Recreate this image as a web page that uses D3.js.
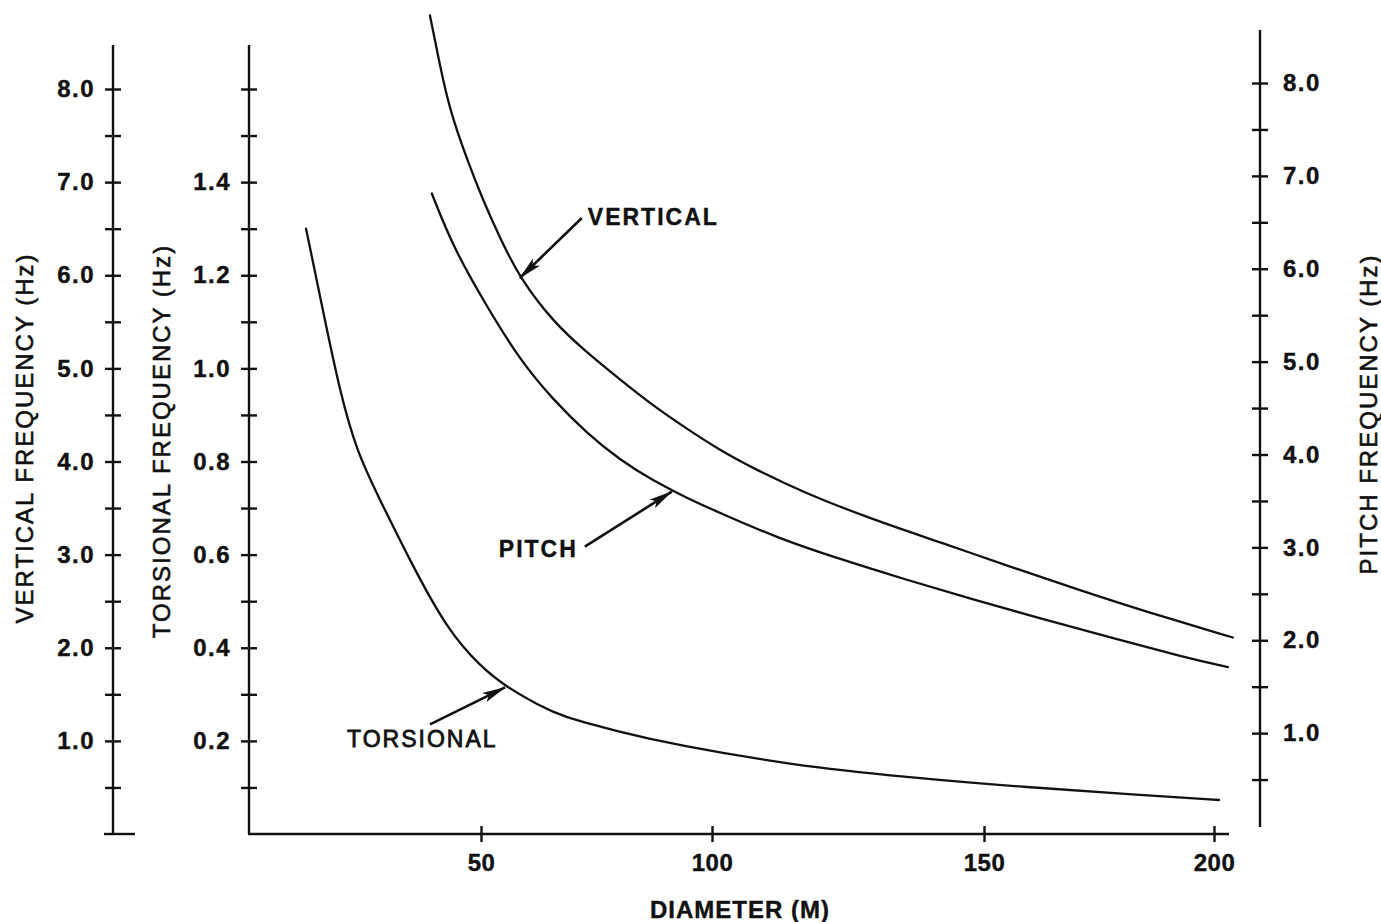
<!DOCTYPE html>
<html>
<head>
<meta charset="utf-8">
<script src="https://cdn.jsdelivr.net/npm/d3@7"></script>
<style>
  html, body { margin: 0; padding: 0; background: #fff; }
  svg { display: block; font-family: "Liberation Sans", Arial, Helvetica, sans-serif; }
</style>
</head>
<body>
<svg id="chart" width="1381" height="922"></svg>
<script>
// --- data: [diameter (m), frequency (Hz)] ---
const verticalCurve = [
  [39.0, 8.79], [41.2, 8.24], [43.3, 7.77], [47.0, 7.24], [50.4, 6.81], [54.1, 6.40],
  [58.4, 5.97], [65.6, 5.50], [72.9, 5.17], [80.1, 4.88], [87.2, 4.60], [94.6, 4.35],
  [101.5, 4.12], [107.5, 3.93], [116.7, 3.67], [129.4, 3.38], [142.1, 3.13],
  [155.7, 2.87], [170.7, 2.62], [185.7, 2.38], [204.1, 2.11]
];
const pitchCurve = [
  [39.4, 6.81], [44.0, 6.23], [51.3, 5.59], [58.4, 5.02], [65.6, 4.59], [72.9, 4.23],
  [80.1, 3.94], [87.2, 3.72], [94.6, 3.53], [101.5, 3.37], [112.1, 3.10], [123.2, 2.88],
  [135.8, 2.65], [148.5, 2.43], [163.3, 2.22], [178.3, 2.02], [193.3, 1.82], [203.0, 1.71]
];
const torsionalCurve = [
  [12.3, 1.30], [15.9, 1.126], [19.6, 0.949], [23.3, 0.819], [28.2, 0.718], [35.3, 0.575],
  [42.7, 0.440], [49.8, 0.360], [55.6, 0.315], [62.8, 0.275], [67.3, 0.253], [80.1, 0.219],
  [92.2, 0.191], [114.7, 0.148], [135.8, 0.122], [158.3, 0.101], [183.5, 0.084], [201.1, 0.073]
];

const diameterTicks = [50, 100, 150, 200];
const hzTicks = d3.range(1, 17).map(i => i * 0.5);        // 0.5 .. 8.0
const torsionTicks = d3.range(1, 17).map(i => i / 10);    // 0.1 .. 1.6

const svg = d3.select("#chart");

// the drawing is hand-made, tick spacing on the diameter axis is uneven
const x = d3.scaleLinear().domain([0, 50, 100, 150, 200]).range([249, 481, 712, 984, 1214]);
const yVert = d3.scaleLinear().domain([0, 8]).range([834, 89]);
const yTors = d3.scaleLinear().domain([0, 1.6]).range([834, 89]);
const yPitch = d3.scaleLinear().domain([0, 8]).range([826, 83]);

const AXIS_W = 2.4;

// arrow marker
svg.append("defs").append("marker")
  .attr("id", "arrow")
  .attr("viewBox", "0 -5 24 10")
  .attr("refX", 23)
  .attr("refY", 0)
  .attr("markerWidth", 24)
  .attr("markerHeight", 10)
  .attr("markerUnits", "userSpaceOnUse")
  .attr("orient", "auto")
  .append("path")
  .attr("d", "M0,-5L24,0L0,5L5,0Z")
  .attr("fill", "#111");

function tidy(g, crossAttr, crossVal) {
  g.select(".domain").remove();
  g.selectAll(".tick line")
    .attr("stroke", "#111")
    .attr("stroke-width", AXIS_W)
    .attr(crossAttr, crossVal);
  g.selectAll(".tick text")
    .attr("fill", "#111")
    .attr("stroke", "#111")
    .attr("stroke-width", 0.4)
    .style("font-size", "24px")
    .style("font-weight", "bold")
    .style("letter-spacing", "1.5px");
}

const fmt = d3.format(".1f");

// --- vertical frequency axis (outer left) ---
const gVert = svg.append("g").attr("transform", "translate(113,0)")
  .call(d3.axisLeft(yVert).tickValues(hzTicks).tickSize(8).tickPadding(10)
    .tickFormat(d => Number.isInteger(d) ? fmt(d) : ""));
tidy(gVert, "x1", 8);
svg.append("line").attr("x1", 113).attr("x2", 113).attr("y1", 45).attr("y2", 834)
  .attr("stroke", "#111").attr("stroke-width", AXIS_W);
svg.append("line").attr("x1", 104).attr("x2", 135).attr("y1", 834).attr("y2", 834)
  .attr("stroke", "#111").attr("stroke-width", AXIS_W);

// --- torsional frequency axis ---
const gTors = svg.append("g").attr("transform", "translate(249,0)")
  .call(d3.axisLeft(yTors).tickValues(torsionTicks).tickSize(8).tickPadding(10)
    .tickFormat(d => {
      const k = Math.round(d * 10);
      return (k % 2 === 0 && k < 16) ? fmt(d) : "";
    }));
tidy(gTors, "x1", 8);
svg.append("line").attr("x1", 249).attr("x2", 249).attr("y1", 45).attr("y2", 834)
  .attr("stroke", "#111").attr("stroke-width", AXIS_W);

// --- pitch frequency axis (right) ---
const gPitch = svg.append("g").attr("transform", "translate(1260,0)")
  .call(d3.axisRight(yPitch).tickValues(hzTicks).tickSize(8).tickPadding(15)
    .tickFormat(d => Number.isInteger(d) ? fmt(d) : ""));
tidy(gPitch, "x1", -8);
svg.append("line").attr("x1", 1260).attr("x2", 1260).attr("y1", 30).attr("y2", 827)
  .attr("stroke", "#111").attr("stroke-width", AXIS_W);

// --- diameter axis ---
const gX = svg.append("g").attr("transform", "translate(0,834)")
  .call(d3.axisBottom(x).tickValues(diameterTicks).tickSize(8).tickPadding(12));
tidy(gX, "y1", -8);
gX.selectAll(".tick text").style("letter-spacing", "0.5px");
svg.append("line").attr("x1", 248).attr("x2", 1229).attr("y1", 834).attr("y2", 834)
  .attr("stroke", "#111").attr("stroke-width", AXIS_W);

// --- axis titles ---
const titles = [
  { text: "VERTICAL FREQUENCY (Hz)", x: 24, y: 438 },
  { text: "TORSIONAL FREQUENCY (Hz)", x: 161, y: 441 },
  { text: "PITCH FREQUENCY (Hz)", x: 1368, y: 414 }
];
svg.selectAll(".ytitle").data(titles).enter().append("text")
  .attr("class", "ytitle")
  .attr("transform", d => `translate(${d.x},${d.y}) rotate(-90)`)
  .attr("text-anchor", "middle")
  .attr("dominant-baseline", "central")
  .attr("fill", "#111")
  .attr("stroke", "#111")
  .attr("stroke-width", 0.6)
  .style("font-size", "24px")
  .style("letter-spacing", "2px")
  .text(d => d.text);

svg.append("text")
  .attr("x", 740).attr("y", 918)
  .attr("text-anchor", "middle")
  .attr("fill", "#111")
  .attr("stroke", "#111")
  .attr("stroke-width", 0.4)
  .style("font-size", "24px")
  .style("font-weight", "bold")
  .style("letter-spacing", "1px")
  .text("DIAMETER (M)");

// --- curves ---
const series = [
  { name: "vertical", data: verticalCurve, y: yVert },
  { name: "pitch", data: pitchCurve, y: yPitch },
  { name: "torsional", data: torsionalCurve, y: yTors }
];
series.forEach(s => {
  svg.append("path")
    .datum(s.data)
    .attr("fill", "none")
    .attr("stroke", "#111")
    .attr("stroke-width", 2.3)
    .attr("stroke-linecap", "round")
    .attr("d", d3.line().x(d => x(d[0])).y(d => s.y(d[1])).curve(d3.curveBasis));
});

// --- callouts: tip on the curve, tail and label offset in px ---
const callouts = [
  { label: "VERTICAL", y: yVert, at: [58.4, 5.97], tail: [62, -60], text: [68, -53], anchor: "start", weight: "bold", stroke: 0.4 },
  { label: "PITCH", y: yPitch, at: [91.3, 3.60], tail: [-87, 55], text: [-94, 65], anchor: "end", weight: "bold", stroke: 0.4 },
  { label: "TORSIONAL", y: yTors, at: [55.2, 0.315], tail: [-75, 37], text: [-158, 60], anchor: "start", weight: "normal", stroke: 0.8 }
];
callouts.forEach(c => {
  const tx = x(c.at[0]), ty = c.y(c.at[1]);
  svg.append("line")
    .attr("x1", tx + c.tail[0]).attr("y1", ty + c.tail[1])
    .attr("x2", tx).attr("y2", ty)
    .attr("stroke", "#111").attr("stroke-width", 2.6)
    .attr("marker-end", "url(#arrow)");
  svg.append("text")
    .attr("x", tx + c.text[0]).attr("y", ty + c.text[1])
    .attr("text-anchor", c.anchor)
    .attr("fill", "#111")
    .attr("stroke", "#111")
    .attr("stroke-width", c.stroke)
    .style("font-size", "23px")
    .style("font-weight", c.weight)
    .style("letter-spacing", "2px")
    .text(c.label);
});
</script>
</body>
</html>
